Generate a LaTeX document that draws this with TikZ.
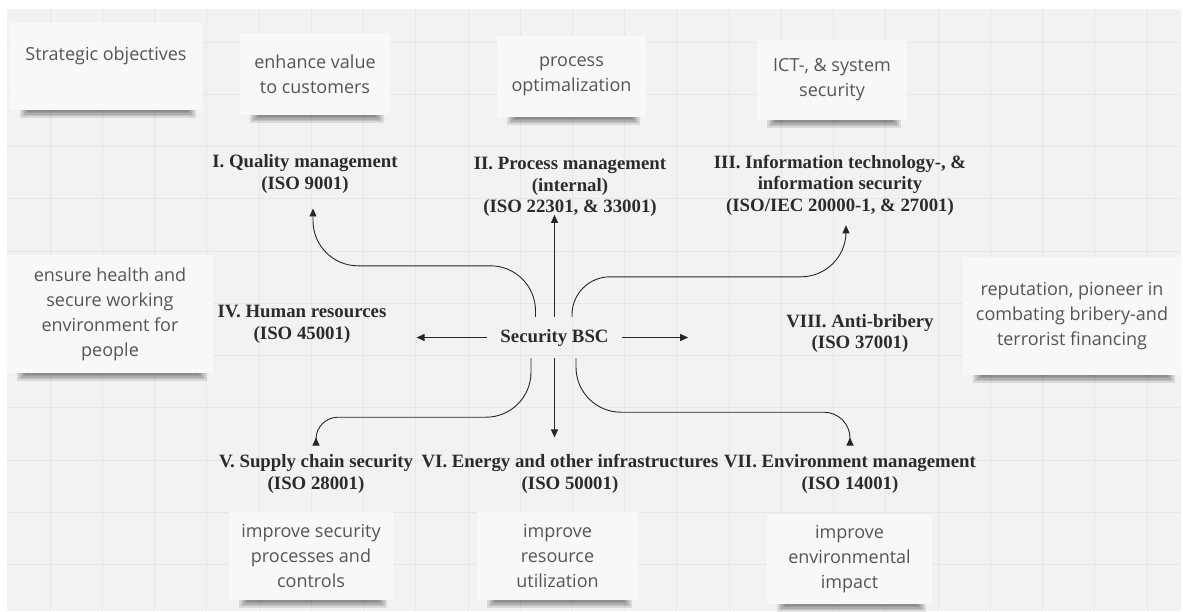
\documentclass[tikz,border=0pt]{standalone}
\usepackage{fontspec}
\setmainfont{Liberation Serif}
\newfontfamily\notefont{Open Sans}
\usetikzlibrary{arrows.meta}
\definecolor{canvas}{HTML}{F2F2F2}
\definecolor{gridgray}{HTML}{E7E7E7}
\definecolor{notefill}{HTML}{F8F8F9}
\definecolor{notetext}{HTML}{555555}
\definecolor{labeltext}{HTML}{2B2B2B}
\newcommand{\sticky}[6] {
    \foreach \s in {1,...,5}
        \fill[black,opacity=0.1] ({#2-#4/2+8+2*\s},{#3+#5/2}) rectangle ({#2+#4/2-4-2*\s},{#3+#5/2+9-1.5*\s});
    \node[sticky,minimum width=#4pt,minimum height=#5pt] (#1) at (#2,#3) {#6};
}
\tikzset{
    sticky/.style={
        fill=notefill,
        text=notetext,
        font=\notefont\fontsize{18}{25}\selectfont,
        align=center,
        inner sep=0pt
    },
    iso/.style={
        text=labeltext,
        font=\bfseries\fontsize{18.8}{21.5}\selectfont,
        align=center,
        inner sep=0pt
    },
    gridrule/.style={draw=gridgray,line width=0.8pt},
    link/.style={draw=black!85,line width=0.9pt,-{Triangle[length=8pt,width=7pt]}}
}
\begin{document}
\begin{tikzpicture}[x=1pt,y=-1pt]
    \useasboundingbox (0,0) rectangle (1183,611);
    \fill[white] (0,0) rectangle (1183,611);
    \fill[canvas] (7,9) rectangle (1181,611);
    \foreach \i in {0,...,21}
        \draw[gridrule] ({50+52.24*\i},9) -- ({50+52.24*\i},611);
    \foreach \j in {0,...,10}
        \draw[gridrule] (7,{42+52.24*\j}) -- (1181,{42+52.24*\j});

    \sticky{strat}{106}{66.5}{192}{87}{Strategic objectives\\\mbox{}}
    \sticky{value}{315}{74}{150}{82}{enhance value\\to customers}
    \sticky{proc}{571.5}{76.5}{149}{81}{process\\optimalization}
    \sticky{ict}{832}{80}{150}{80}{ICT-, \& system\\security}
    \sticky{health}{110}{314}{206}{118}{ensure health and\\secure working\\environment for\\people}
    \sticky{rep}{1072}{316}{218}{118}{reputation, pioneer in\\combating bribery-and\\terrorist financing}
    \sticky{secimp}{311}{556}{164}{88}{improve security\\processes and\\controls}
    \sticky{resimp}{557.5}{556}{161}{88}{improve\\resource\\utilization}
    \sticky{envimp}{849.5}{559.5}{165}{89}{improve\\environmental\\impact}

    \node[iso] (qual) at (305,174) {I. Quality management\\(ISO 9001)};
    \node[iso] (procm) at (570,187) {II. Process management\\(internal)\\(ISO 22301, \& 33001)};
    \node[iso] (infsec) at (840,185) {III. Information technology-, \&\\information security\\(ISO/IEC 20000-1, \& 27001)};
    \node[iso] (hr) at (302,324.5) {IV. Human resources\\(ISO 45001)};
    \node[iso] (anti) at (860,333.5) {VIII. Anti-bribery\\(ISO 37001)};
    \node[iso] (supply) at (316,474) {V. Supply chain security\\(ISO 28001)};
    \node[iso] (energy) at (570,474) {VI. Energy and other infrastructures\\(ISO 50001)};
    \node[iso] (env) at (850,474) {VII. Environment management\\(ISO 14001)};
    \node[iso,minimum width=135pt,minimum height=41pt] (bsc) at (554.5,337.5) {Security BSC};

    \draw[link,shorten >=30pt] (bsc.west) -- (bsc.west -| hr.east);
    \draw[link,shorten >=98pt] (bsc.east) -- (bsc.east -| anti.west);
    \draw[link,shorten >=-2pt] (bsc.north) -- (bsc.north |- procm.south);
    \draw[link,shorten >=17pt] (bsc.south) -- (bsc.south |- energy.north);
    \draw[link,rounded corners=45pt] ([xshift=-19pt]bsc.north) |- ++(-110,-51) -| ([xshift=8pt,yshift=-15pt]qual.south);
    \draw[link] ([xshift=17.5pt]bsc.north) [rounded corners=38pt] |- ++(110,-40) [rounded corners=45pt] -| ([xshift=6pt,yshift=-10pt]infsec.south);
    \draw[link] ([xshift=-23.5pt]bsc.south) [rounded corners=45pt] |- ++(-100,59) [rounded corners=22pt] -| ([yshift=17pt]supply.north);
    \draw[link] ([xshift=21.5pt]bsc.south) [rounded corners=45pt] |- ++(100,54) [rounded corners=26pt] -| ([yshift=17pt]env.north);
\end{tikzpicture}
\end{document}
